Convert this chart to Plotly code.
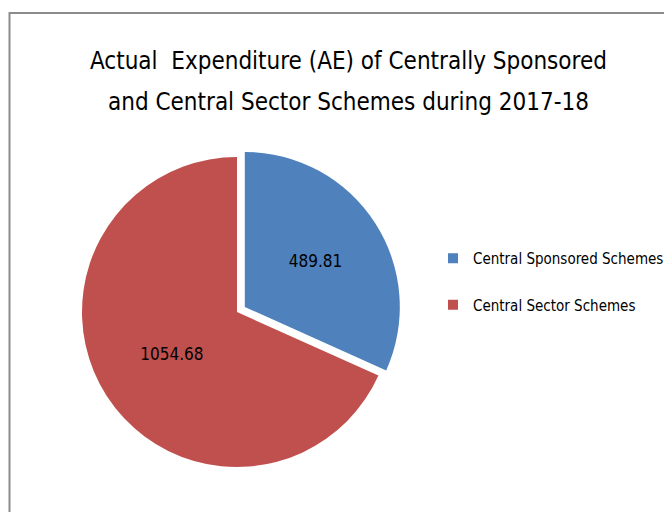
import plotly.graph_objects as go

labels = ["Central Sponsored Schemes", "Central Sector Schemes"]
values = [489.81, 1054.68]
colors = ["#4F81BD", "#C0504D"]
title_lines = ["Actual  Expenditure (AE) of Centrally Sponsored",
               "and Central Sector Schemes during 2017-18"]

FONT = "DejaVu Sans Condensed, Liberation Sans Narrow, sans-serif"
# the page body has an 8px margin, so the figure is drawn 8px smaller
OFF = 8
W, H = 672 - OFF, 512 - OFF


def px(x):
    return (x - OFF) / W


def py(y):
    return 1 - (y - OFF) / H


cx, cy, r, pull = 237, 312, 155, 0.06
half = r * (1 + pull)

fig = go.Figure()
fig.add_trace(go.Pie(
    labels=labels, values=values,
    marker=dict(colors=colors, line=dict(width=0)),
    sort=False, direction="clockwise", rotation=0,
    pull=[pull, 0],
    textinfo="value", texttemplate="%{value:.2f}",
    textposition="inside", insidetextorientation="horizontal",
    textfont=dict(family=FONT, size=17, color="black"),
    hoverinfo="label+value",
    showlegend=False,
    domain=dict(x=[px(cx - half), px(cx + half)],
                y=[py(cy + half), py(cy - half)]),
))

# legend entries, one group per slice so the groups can be spaced apart
for lab, col in zip(labels, colors):
    fig.add_trace(go.Scatter(
        x=[None], y=[None], mode="markers", name=lab, legendgroup=lab,
        marker=dict(symbol="square", size=10, color=col),
        hoverinfo="skip",
    ))

annotations = []
for i, line in enumerate(title_lines):
    annotations.append(dict(
        text=line, xref="paper", yref="paper",
        x=px(348), y=py(61 + 41 * i), xanchor="center", yanchor="middle",
        showarrow=False, font=dict(family=FONT, size=24, color="black"),
    ))

fig.update_layout(
    width=W, height=H,
    margin=dict(l=0, r=0, t=0, b=0, autoexpand=False),
    paper_bgcolor="white", plot_bgcolor="white",
    xaxis=dict(visible=False), yaxis=dict(visible=False),
    annotations=annotations,
    legend=dict(x=px(433), y=py(242), xanchor="left", yanchor="top",
                font=dict(family=FONT, size=15, color="black"),
                tracegroupgap=24, itemwidth=30,
                bgcolor="rgba(0,0,0,0)"),
    shapes=[dict(type="rect", xref="paper", yref="paper",
                 x0=px(9.5), x1=1.05, y0=-0.05, y1=py(13),
                 line=dict(color="#8c8c8c", width=2), fillcolor="rgba(0,0,0,0)",
                 layer="above")],
)

fig.write_html("out.html")
